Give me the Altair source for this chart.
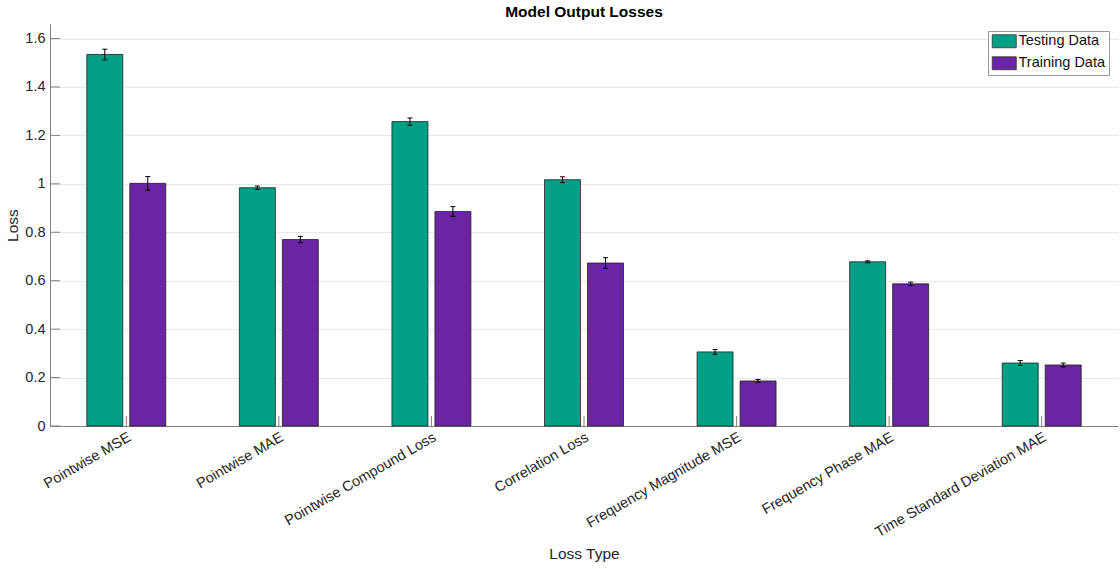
import altair as alt
import pandas as pd

categories = ["Pointwise MSE", "Pointwise MAE", "Pointwise Compound Loss", "Correlation Loss",
              "Frequency Magnitude MSE", "Frequency Phase MAE", "Time Standard Deviation MAE"]
series = ["Testing Data", "Training Data"]
test_vals = [1.534, 0.984, 1.257, 1.017, 0.306, 0.678, 0.260]
test_err = [0.022, 0.007, 0.015, 0.012, 0.010, 0.004, 0.010]
train_vals = [1.002, 0.770, 0.886, 0.673, 0.186, 0.587, 0.252]
train_err = [0.028, 0.013, 0.020, 0.022, 0.006, 0.007, 0.008]
y_ticks = [0, 0.2, 0.4, 0.6, 0.8, 1.0, 1.2, 1.4, 1.6]
colors = ["#00A087", "#6A26A2"]

rows = []
for s, vals, errs in [(series[0], test_vals, test_err), (series[1], train_vals, train_err)]:
    for c, v, e in zip(categories, vals, errs):
        rows.append({"category": c, "series": s, "value": v, "lo": v - e, "hi": v + e})
df = pd.DataFrame(rows)
cat_df = pd.DataFrame({"category": categories})
tick_df = pd.DataFrame({"t": y_ticks})

W, H = 1068, 402
FONT = "Liberation Sans"
TXT = "#262626"

x_enc = alt.X("category:N", sort=categories,
              scale=alt.Scale(paddingInner=0, paddingOuter=0),
              axis=alt.Axis(title="Loss Type", labelAngle=330, labelAlign="right", labelBaseline="top",
                            labelFontSize=14.5, labelColor=TXT, labelPadding=4, labelLimit=0, ticks=False,
                            titleFontSize=15.5, titleFontWeight="normal", titleColor=TXT,
                            titleY=120, titleBaseline="top",
                            domainColor="#808080", labelFont=FONT, titleFont=FONT))
xo_enc = alt.XOffset("series:N", sort=series, scale=alt.Scale(paddingInner=0.163, paddingOuter=0.856))
y_scale = alt.Scale(domain=[0, 1.66], nice=False)

bars = alt.Chart(df).mark_bar(stroke="#222222", strokeWidth=0.8).encode(
    x=x_enc,
    xOffset=xo_enc,
    y=alt.Y("value:Q", scale=y_scale,
            axis=alt.Axis(title="Loss", values=y_ticks, format=".1~f", ticks=False, labelFontSize=14.5,
                          labelColor=TXT, labelPadding=5, titleFontSize=15.5, titleFontWeight="normal",
                          titleColor=TXT, titlePadding=4, domainColor="#808080", gridColor="#e8e8e8",
                          labelFont=FONT, titleFont=FONT)),
    color=alt.Color("series:N", sort=series, scale=alt.Scale(domain=series, range=colors),
                    legend=alt.Legend(title=None, orient="none", legendX=938, legendY=7,
                                      strokeColor="#999999", fillColor="white", padding=3,
                                      labelFontSize=14.5, labelColor="#111111", labelFont=FONT,
                                      symbolType="M-1.85,-1H1.85V1H-1.85Z", symbolSize=169,
                                      symbolStrokeColor="#333333", symbolStrokeWidth=0.8,
                                      symbolOpacity=1, symbolOffset=6,
                                      labelOffset=7, rowPadding=5)),
)

err_rule = alt.Chart(df).mark_rule(color="black", strokeWidth=1).encode(
    x=alt.X("category:N", sort=categories), xOffset=alt.XOffset("series:N", sort=series),
    y=alt.Y("lo:Q", scale=y_scale), y2="hi:Q")
cap_lo = alt.Chart(df).mark_tick(color="black", size=5, thickness=1, opacity=1).encode(
    x=alt.X("category:N", sort=categories), xOffset=alt.XOffset("series:N", sort=series),
    y=alt.Y("lo:Q", scale=y_scale))
cap_hi = alt.Chart(df).mark_tick(color="black", size=5, thickness=1, opacity=1).encode(
    x=alt.X("category:N", sort=categories), xOffset=alt.XOffset("series:N", sort=series),
    y=alt.Y("hi:Q", scale=y_scale))

x_ticks = alt.Chart(cat_df).mark_rule(color="#808080", strokeWidth=1).encode(
    x=alt.X("category:N", sort=categories), y=alt.value(H), y2=alt.value(H - 10))
y_tick_marks = alt.Chart(tick_df).mark_rule(color="#808080", strokeWidth=1).encode(
    y=alt.Y("t:Q", scale=y_scale), x=alt.value(0), x2=alt.value(10))

chart = alt.layer(bars, err_rule, cap_lo, cap_hi, x_ticks, y_tick_marks).properties(
    width=W, height=H,
    title=alt.TitleParams("Model Output Losses", fontSize=15.5, fontWeight="bold", color="#000000",
                          font=FONT, anchor="middle", offset=4),
    autosize=alt.AutoSizeParams(type="none"),
    padding={"left": 50, "top": 24, "right": 2, "bottom": 143},
).configure_view(stroke=None).configure_axis(labelFont=FONT, titleFont=FONT)

chart.save("out.html", embed_options={"renderer": "svg", "actions": False})
